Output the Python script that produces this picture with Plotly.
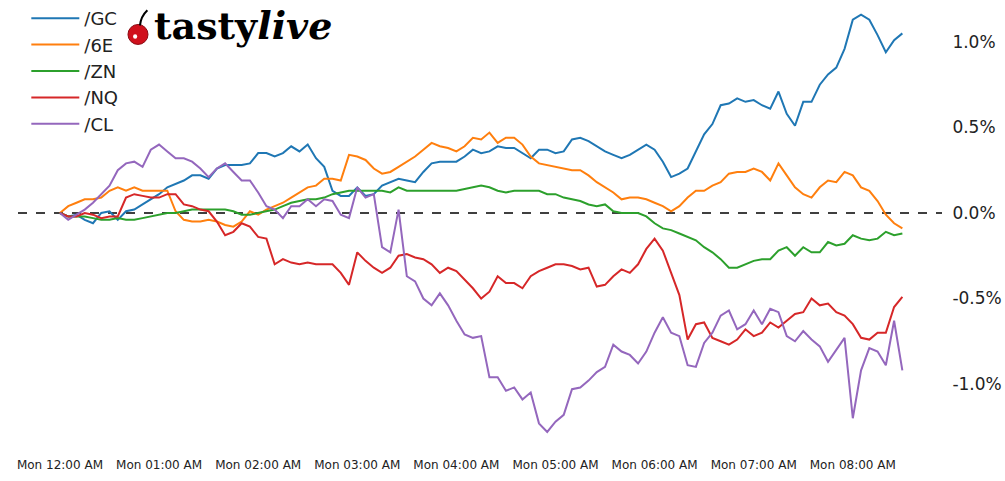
import pandas as pd
import plotly.graph_objects as go

# 5-minute bars starting Monday 12:00 AM
times = pd.date_range("2024-01-01 00:00", periods=103, freq="5min")

gc = [0.00, -0.02, -0.01, -0.04, -0.06, 0.00, 0.01, -0.04, 0.01, 0.02,
      0.05, 0.08, 0.11, 0.15, 0.17, 0.19, 0.22, 0.22, 0.20, 0.26,
      0.28, 0.28, 0.28, 0.29, 0.35, 0.35, 0.33, 0.35, 0.39, 0.36,
      0.40, 0.32, 0.27, 0.13, 0.10, 0.10, 0.15, 0.10, 0.11, 0.16,
      0.18, 0.20, 0.19, 0.18, 0.24, 0.29, 0.30, 0.30, 0.30, 0.33,
      0.37, 0.35, 0.36, 0.39, 0.38, 0.38, 0.35, 0.32, 0.37, 0.37,
      0.35, 0.36, 0.43, 0.44, 0.42, 0.39, 0.36, 0.34, 0.32, 0.34,
      0.37, 0.40, 0.37, 0.30, 0.21, 0.23, 0.26, 0.36, 0.46, 0.52,
      0.63, 0.64, 0.67, 0.65, 0.66, 0.63, 0.61, 0.71, 0.58, 0.51,
      0.65, 0.65, 0.75, 0.81, 0.85, 0.96, 1.13, 1.16, 1.13, 1.04,
      0.94, 1.01, 1.05]

e6 = [0.00, 0.04, 0.06, 0.08, 0.08, 0.09, 0.13, 0.15, 0.13, 0.15,
      0.13, 0.13, 0.13, 0.13, 0.01, -0.04, -0.05, -0.05, -0.04, -0.05,
      -0.07, -0.08, -0.05, 0.01, -0.01, 0.02, 0.04, 0.06, 0.09, 0.12,
      0.15, 0.16, 0.20, 0.20, 0.19, 0.34, 0.33, 0.31, 0.26, 0.23,
      0.24, 0.27, 0.30, 0.33, 0.37, 0.41, 0.39, 0.38, 0.36, 0.39,
      0.44, 0.43, 0.47, 0.41, 0.44, 0.44, 0.40, 0.33, 0.29, 0.28,
      0.27, 0.26, 0.25, 0.25, 0.22, 0.18, 0.15, 0.12, 0.08, 0.09,
      0.09, 0.08, 0.06, 0.04, 0.01, 0.04, 0.09, 0.13, 0.13, 0.16,
      0.18, 0.23, 0.24, 0.24, 0.26, 0.24, 0.19, 0.29, 0.22, 0.15,
      0.11, 0.09, 0.15, 0.19, 0.18, 0.24, 0.22, 0.15, 0.13, 0.07,
      -0.01, -0.06, -0.09]

zn = [0.00, -0.02, -0.02, -0.02, -0.03, -0.04, -0.04, -0.03, -0.04, -0.04,
      -0.03, -0.02, -0.01, 0.00, 0.00, 0.01, 0.02, 0.02, 0.02, 0.02,
      0.02, 0.01, -0.01, -0.01, 0.00, 0.01, 0.02, 0.04, 0.06, 0.07,
      0.08, 0.08, 0.09, 0.11, 0.12, 0.13, 0.13, 0.13, 0.13, 0.13,
      0.12, 0.15, 0.13, 0.13, 0.13, 0.13, 0.13, 0.13, 0.13, 0.14,
      0.15, 0.16, 0.15, 0.13, 0.12, 0.13, 0.13, 0.13, 0.13, 0.11,
      0.11, 0.09, 0.08, 0.07, 0.05, 0.04, 0.05, 0.01, 0.00, 0.00,
      0.00, -0.02, -0.06, -0.09, -0.10, -0.12, -0.14, -0.16, -0.20, -0.23,
      -0.27, -0.32, -0.32, -0.30, -0.28, -0.27, -0.27, -0.22, -0.20, -0.25,
      -0.20, -0.23, -0.23, -0.17, -0.19, -0.18, -0.13, -0.15, -0.16, -0.15,
      -0.11, -0.13, -0.12]

nq = [0.00, -0.02, -0.02, 0.00, -0.01, -0.03, -0.02, -0.02, 0.09, 0.11,
      0.10, 0.09, 0.09, 0.11, 0.11, 0.05, 0.04, 0.02, 0.01, -0.05,
      -0.13, -0.11, -0.06, -0.08, -0.14, -0.15, -0.30, -0.27, -0.29, -0.30,
      -0.29, -0.30, -0.30, -0.30, -0.35, -0.42, -0.23, -0.28, -0.32, -0.35,
      -0.32, -0.25, -0.24, -0.26, -0.27, -0.30, -0.35, -0.32, -0.34, -0.39,
      -0.44, -0.50, -0.46, -0.37, -0.41, -0.41, -0.44, -0.37, -0.34, -0.32,
      -0.30, -0.30, -0.31, -0.33, -0.32, -0.43, -0.42, -0.37, -0.33, -0.35,
      -0.30, -0.21, -0.15, -0.22, -0.35, -0.48, -0.74, -0.65, -0.64, -0.73,
      -0.75, -0.77, -0.74, -0.68, -0.72, -0.70, -0.64, -0.67, -0.63, -0.59,
      -0.58, -0.50, -0.54, -0.53, -0.58, -0.60, -0.65, -0.73, -0.74, -0.70,
      -0.70, -0.55, -0.49]

cl = [0.00, -0.04, -0.01, 0.02, 0.06, 0.11, 0.16, 0.25, 0.29, 0.30,
      0.27, 0.37, 0.40, 0.36, 0.32, 0.32, 0.30, 0.26, 0.21, 0.26,
      0.29, 0.24, 0.19, 0.19, 0.12, 0.04, 0.02, -0.03, 0.04, 0.04,
      0.08, 0.04, 0.08, 0.07, -0.01, -0.03, 0.15, 0.09, 0.11, -0.20,
      -0.23, 0.02, -0.37, -0.40, -0.50, -0.54, -0.47, -0.54, -0.63, -0.71,
      -0.73, -0.72, -0.96, -0.96, -1.04, -1.02, -1.09, -1.05, -1.23, -1.28,
      -1.22, -1.18, -1.03, -1.02, -0.98, -0.93, -0.90, -0.77, -0.81, -0.83,
      -0.88, -0.81, -0.70, -0.61, -0.70, -0.72, -0.89, -0.90, -0.76, -0.70,
      -0.60, -0.57, -0.68, -0.65, -0.57, -0.65, -0.56, -0.58, -0.72, -0.75,
      -0.69, -0.74, -0.78, -0.87, -0.80, -0.73, -1.20, -0.92, -0.79, -0.81,
      -0.89, -0.63, -0.92]

series_names = ["/GC", "/6E", "/ZN", "/NQ", "/CL"]
series_values = [gc, e6, zn, nq, cl]
colors = ["#1f77b4", "#ff7f0e", "#2ca02c", "#d62728", "#9467bd"]

y_tick_vals = [1.0, 0.5, 0.0, -0.5, -1.0]
y_tick_text = ["1.0%", "0.5%", "0.0%", "-0.5%", "-1.0%"]
x_tick_vals = pd.date_range("2024-01-01 00:00", periods=9, freq="1h")

fig = go.Figure()
for name, vals, col in zip(series_names, series_values, colors):
    fig.add_trace(go.Scatter(x=times, y=vals, mode="lines", name=name,
                             line=dict(color=col, width=2)))

# zero reference line
fig.add_shape(type="line", xref="paper", x0=0, x1=1, yref="y", y0=0, y1=0,
              line=dict(color="black", width=1.3, dash="dash"), layer="below")

# logo: cherry + wordmark
fig.add_shape(type="circle", xref="paper", yref="paper",
              x0=0.119, x1=0.1407, y0=0.911, y1=0.956,
              fillcolor="#d0101c", line=dict(color="#8a0a12", width=1))
fig.add_shape(type="circle", xref="paper", yref="paper",
              x0=0.1245, x1=0.1290, y0=0.924, y1=0.934,
              fillcolor="white", line=dict(width=0))
fig.add_shape(type="path", xref="paper", yref="paper",
              path="M 0.1320 0.954 Q 0.1330 0.974 0.1400 0.988",
              line=dict(color="black", width=2))
fig.add_annotation(xref="paper", yref="paper", x=0.1445, y=0.953,
                   xanchor="left", yanchor="middle", showarrow=False,
                   text="<b>tasty<i>live</i></b>",
                   font=dict(family="DejaVu Serif", size=38, color="black"))

fig.update_layout(
    width=1005, height=481,
    margin=dict(l=18, r=63, t=5, b=33, autoexpand=False),
    paper_bgcolor="white", plot_bgcolor="white",
    font=dict(family="DejaVu Sans", color="#222222"),
    showlegend=True,
    legend=dict(x=0.009, y=1.0, xref="paper", yref="container",
                xanchor="left", yanchor="top",
                bgcolor="rgba(255,255,255,0)", font=dict(size=18),
                itemwidth=48, tracegroupgap=0),
    xaxis=dict(range=["2023-12-31 23:34:36", "2024-01-01 08:54:00"],
               tickvals=x_tick_vals, tickformat="%a %I:%M %p",
               showgrid=False, zeroline=False, showline=False,
               ticks="outside", ticklen=6, tickcolor="rgba(0,0,0,0)",
               tickfont=dict(size=12, color="#222222")),
    yaxis=dict(range=[-1.374, 1.216], side="right",
               tickvals=y_tick_vals, ticktext=y_tick_text,
               showgrid=False, zeroline=False, showline=False,
               ticks="outside", ticklen=6, tickcolor="rgba(0,0,0,0)",
               tickfont=dict(size=17, color="#222222")),
)

fig.write_html("out.html", config={"displayModeBar": False},
               post_script="document.body.style.margin='0px';")
